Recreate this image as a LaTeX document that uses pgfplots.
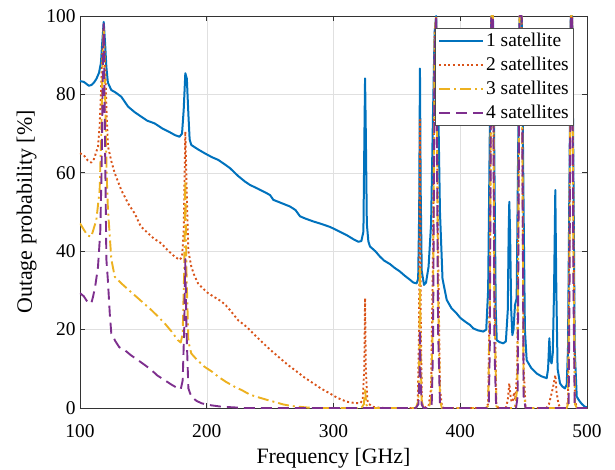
\documentclass[border=0pt]{standalone}
\usepackage{fontspec}
\setmainfont{Liberation Serif}
\usepackage{pgfplots}
\pgfplotsset{compat=1.18}
\definecolor{mblue}{rgb}{0,0.447,0.741}
\definecolor{morange}{rgb}{0.85,0.325,0.098}
\definecolor{myellow}{rgb}{0.929,0.694,0.125}
\definecolor{mpurple}{rgb}{0.494,0.184,0.556}
\begin{document}
\begin{tikzpicture}
\begin{axis}[
  at={(0,0)}, anchor=south west,
  scale only axis, width=507bp, height=392bp,
  xmin=100, xmax=500, ymin=0, ymax=100,
  xtick={100,200,300,400,500}, ytick={0,20,40,60,80,100},
  /pgf/number format/assume math mode=true,
  ticklabel style={font=\fontsize{19.5}{23}\selectfont},
  xticklabel style={anchor=center, yshift=-23bp},
  yticklabel style={anchor=east, xshift=-1bp},
  label style={font=\fontsize{22}{26}\selectfont},
  xlabel={Frequency [GHz]}, ylabel={Outage probability [\%]},
  xlabel style={at={(axis description cs:0.5,0)}, anchor=center, yshift=-50bp},
  ylabel style={yshift=3bp},
  grid=major, grid style={line width=0.5bp, draw=black!12},
  axis line style={line width=0.6bp, draw=black!80},
  tick style={line width=0.6bp, draw=black!80},
  tick align=inside, major tick length=5bp,
  legend cell align=left,
  legend style={at={(1,1)}, anchor=north east, xshift=-13bp, yshift=-12bp,
    font=\fontsize{19.5}{23}\selectfont, draw=black!70, line width=0.6bp,
    inner xsep=3bp, inner ysep=3bp, row sep=5bp},
  legend image code/.code={\draw[#1] (0bp,0bp) -- (44bp,0bp);},
  line join=round,
]
\addplot[mblue, line width=2bp] table {
100 83.4
103 83.2
105 82.7
107 82.2
109 82.4
111 83.0
113 84.0
115 85.5
116.5 88
117.5 93
118.7 98.5
119.8 93
120.8 87
122 83
124.7 81.1
128 80.5
132.6 79.4
137.9 76.9
143 75.5
148.4 74.3
153 73.3
158.9 72.6
165 71.3
170 70.5
175 69.6
178.5 69.2
180.5 70
181.8 76
183.1 85.4
184.3 84
185.5 75
186.5 68.5
187.8 67.1
193 66
198.3 65.0
204 64
209 63.3
214 62.2
218.3 61.2
224.7 59.2
230 57.8
234.1 56.9
240 56.0
247.3 54.8
250 54.3
252.5 53.1
258 52.4
265.7 51.4
270 50.5
273.6 48.9
278 48.3
284 47.6
290 47.0
297.2 46.2
303 45.3
310.4 44.1
316 43
319.6 42.4
322 42.6
323.6 45
324.4 70
324.9 84.1
325.5 70
326.3 47
327.5 42.5
328.8 41.2
333 40
336.7 38.6
340 37.6
344.6 36.7
348 35.8
352.5 34.8
356 33.8
360.4 32.7
363 32.0
365.6 31.8
366.8 33
367.6 50
368.2 86.6
368.8 55
369.6 35
371.4 31.4
373 32
375 36
377 47
378.5 75
379.8 96
381 100
382.5 80
384 50
386 33
389.3 27.6
393 25.5
397.2 24.1
400 23
404 22
407.7 21.2
410.3 20.3
414 19.8
418.2 19.5
420.5 20
422 30
423.3 70
424.5 100
425.8 100
427 60
428 25
428.8 17.3
431 16.8
434 16.5
436 17
437.5 25
438.2 45
438.7 52.6
439.3 45
440.2 25
441.1 18.6
442 20
443.2 26.3
444.5 28
445.5 60
446.8 100
448.5 100
450 50
451 20
452.4 12.2
456 10.2
460.3 8.8
464 8.1
468.2 7.6
469.3 10
470.3 17.8
471.2 12
472.1 11.4
473 14
474 30
475 55.6
475.8 30
476.8 10
478.7 6.3
480.5 5.5
482.6 5.0
484 6
485 15
486.2 60
487.2 100
488.3 100
489.3 60
490.3 15
491.9 2.9
494 1.8
496 1.0
498.4 0.3
500 0.2
};
\addlegendentry{1 satellite}
\addplot[morange, line width=1.9bp, dash pattern=on 2bp off 2.6bp] table {
100 65.0
103 64.5
106 63.2
108.9 62.6
111 63.5
114.2 66.7
115.5 72
116.5 80
117.5 90
118.7 97
119.8 88
121 75
122.1 66.7
124.7 63
127.4 59.9
132.6 55.6
137.9 52.2
143.2 49.6
148 46.3
153.6 44.6
158 43.3
164.1 42
169 40.3
174.7 38.6
178.6 37.8
180.5 38.5
181.8 45
183.1 70.5
184.2 55
185.5 40
187.8 36.1
190 34
193.1 31.8
197 30.5
201 29.3
206 28.3
211.5 27.2
215 26.2
218.3 25.0
224.7 22.4
231.5 20.7
238 18.6
244.6 16.5
251 14.6
257.8 12.7
264 11
271 9.3
277 7.8
284 6.3
290 5
297.2 3.7
303 2.6
310.4 1.6
316 1.3
321 1.2
323 2
324.3 10
324.9 28
325.5 10
326.7 2
328 1
331.4 0.3
335 0.1
340 0
365 0
366.5 1
367.5 20
368.2 73.5
368.9 20
369.8 1
371 0
375 0.5
377 5
378.5 40
379.8 95
381 100
382.5 40
384 5
385.5 0.5
387 0
420 0
422 1
423.3 30
424.5 100
425.8 100
427 30
428.5 1
430 0
436 0
437.5 2
438.7 6.3
439.7 3
440.5 1.5
441.5 2
442.5 4
443.5 2
445 10
446.8 100
448.5 100
450 10
451.5 0.5
453 0
468 0
470 1
471.5 3
473 5
475 8.4
476 4
477.5 1
479 0
484 0
485 2
486.2 50
487.2 100
488.3 100
489.3 50
490.5 2
492 0
500 0
};
\addlegendentry{2 satellites}
\addplot[myellow, line width=1.9bp, dash pattern=on 11bp off 4bp on 2bp off 4bp] table {
100 47.1
103 45.5
106 44
108.9 43.7
112.9 48
115.5 55.6
116.8 70
117.8 88
118.7 97
119.8 80
121 60
122 51
124.7 38
127.4 33.5
132.6 31.8
140.5 29.5
145.8 28
151 26.5
156.3 25
161 23.5
166.8 21.6
172 19.6
177.3 17.3
179.5 16.7
181 19
182.2 35
183.1 58
184 35
185.5 17
187.8 13.9
192 12.4
198.3 10.5
204 9.3
209 8
215 6.7
222.1 5.4
228 4.5
234.1 3.4
240 2.8
247.3 2.1
254 1.5
260.5 0.9
267 0.5
273.6 0.3
280 0.1
285 0
322 0
324 1
324.9 5
325.8 1
327 0
365 0
367 2
367.8 15
368.2 36
368.7 15
369.5 2
371 0
375 0
377 2
378.5 25
379.8 95
381 100
382.5 30
384 2
385.5 0
420 0
422 0.5
423.3 25
424.5 100
425.8 100
427 25
428.5 0.5
430 0
443 0
445 5
446.8 100
448.5 100
450 5
451.5 0
484 0
485 1
486.2 40
487.2 100
488.3 100
489.3 40
490.5 1
492 0
500 0
};
\addlegendentry{3 satellites}
\addplot[mpurple, line width=1.9bp, dash pattern=on 11bp off 6bp] table {
100 29.3
103 28.5
106 27
108.9 26.7
110.3 28.4
112 31
114.2 36
116 45
117 60
118 85
118.7 98
119.5 75
120.8 38
122 32.6
123.5 24
124.7 19
128 17
131 15.5
135.2 14.8
140 13.5
145.8 12.2
151 11
156.3 9.7
161 8.3
166.8 7.1
172 6
177.3 5
179.5 4.8
181 7
182.2 20
183.1 38
184 20
185.5 5
187.8 2.9
192 1.8
196 1.2
201 0.8
210 0.4
219 0.2
230 0
365 0
367 1
367.8 8
368.2 20
368.7 8
369.5 1
371 0
376 0
377.5 1
378.5 15
379.8 90
381 100
382.5 20
384 1
385.5 0
421 0
422.5 0.3
423.3 15
424.5 100
425.8 100
427 15
428.3 0.3
430 0
444 0
445.3 3
446.8 100
448.5 100
450 3
451.5 0
484.5 0
485.5 0.5
486.2 30
487.2 100
488.3 100
489.3 30
490.3 0.5
492 0
500 0
};
\addlegendentry{4 satellites}
\end{axis}
\pgfresetboundingbox
\path[use as bounding box] (-80bp,-62bp) rectangle (535bp,408bp);
\end{tikzpicture}
\end{document}
